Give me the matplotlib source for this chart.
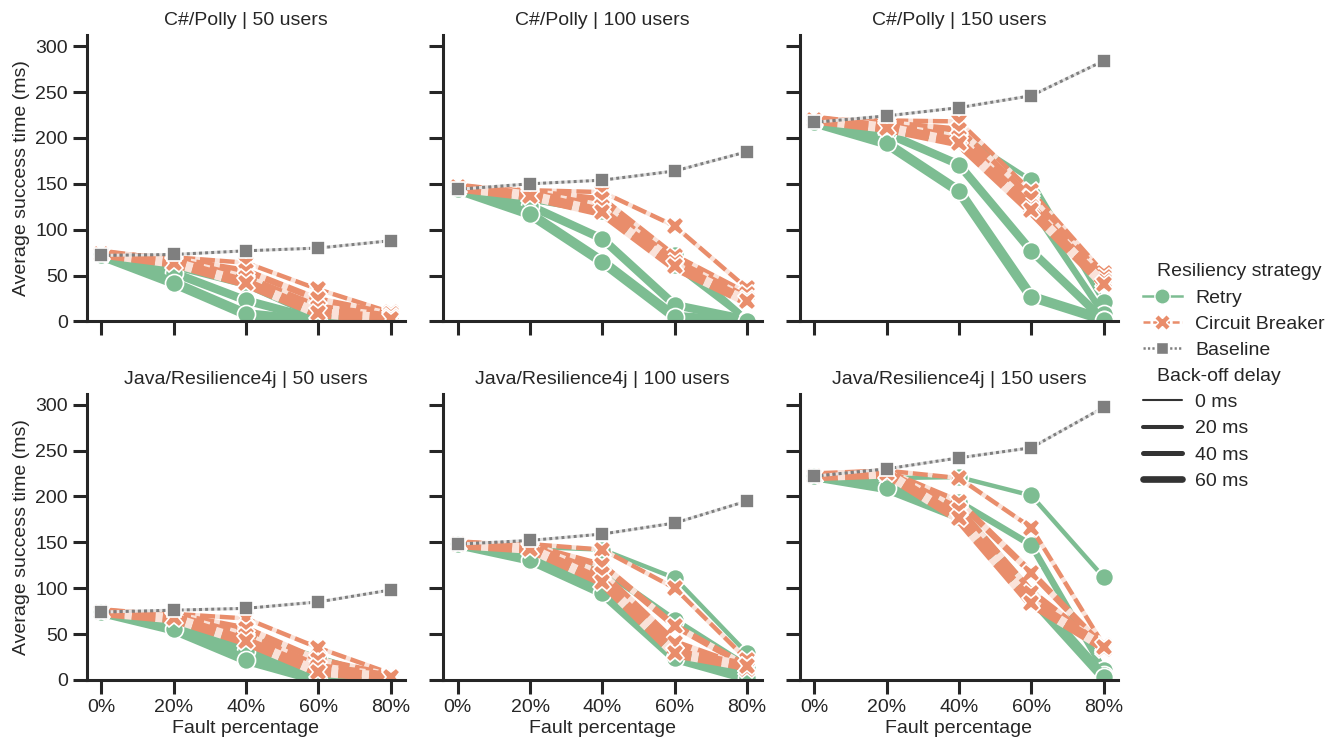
import matplotlib
matplotlib.use("Agg")
import matplotlib.pyplot as plt
from matplotlib.lines import Line2D
import matplotlib.offsetbox as moff

# ---------- data ----------
fault_pct = [0, 20, 40, 60, 80]
delays = ["0 ms", "20 ms", "40 ms", "60 ms"]
strategies = ["Retry", "Circuit Breaker", "Baseline"]
platforms = ["C#/Polly", "Java/Resilience4j"]
users = [50, 100, 150]

# one row per back-off delay (0, 20, 40, 60 ms)
polly_50_retry = [[72, 65, 48, 15, 1], [72, 60, 40, 5, 0], [72, 53, 23, 2, 0], [72, 42, 8, 0, 0]]
polly_50_cb = [[74, 70, 64, 35, 10], [74, 68, 55, 24, 8], [74, 66, 47, 15, 5], [74, 64, 42, 9, 3]]
polly_50_base = [72, 73, 77, 80, 88]

polly_100_retry = [[144, 140, 128, 72, 3], [144, 133, 120, 62, 2], [144, 126, 90, 18, 2], [144, 117, 65, 5, 0]]
polly_100_cb = [[146, 143, 141, 104, 36], [146, 141, 133, 71, 30], [146, 139, 125, 65, 25], [146, 137, 119, 60, 22]]
polly_100_base = [144, 150, 154, 164, 185]

polly_150_retry = [[217, 214, 205, 154, 21], [217, 208, 198, 125, 8], [217, 205, 171, 77, 2], [217, 194, 142, 27, 2]]
polly_150_cb = [[220, 219, 218, 142, 53], [220, 216, 209, 135, 48], [220, 213, 200, 125, 44], [220, 211, 195, 121, 41]]
polly_150_base = [217, 224, 233, 246, 284]

java_50_retry = [[74, 70, 50, 25, 1], [74, 65, 40, 10, 0], [74, 60, 32, 3, 0], [74, 55, 22, 0, 0]]
java_50_cb = [[74, 72, 67, 35, 7], [74, 71, 56, 22, 5], [74, 69, 48, 14, 4], [74, 67, 42, 9, 3]]
java_50_base = [74, 76, 78, 85, 98]

java_100_retry = [[148, 145, 142, 111, 29], [148, 140, 120, 65, 15], [148, 136, 105, 30, 5], [148, 131, 95, 24, 2]]
java_100_cb = [[148, 148, 142, 100, 22], [148, 146, 125, 59, 15], [148, 145, 115, 40, 12], [148, 143, 107, 29, 15]]
java_100_base = [148, 152, 159, 171, 195]

java_150_retry = [[222, 220, 221, 201, 112], [222, 215, 194, 147, 11], [222, 212, 185, 94, 5], [222, 209, 178, 90, 3]]
java_150_cb = [[222, 228, 220, 166, 38], [222, 227, 194, 117, 36], [222, 226, 185, 95, 34], [222, 225, 176, 84, 36]]
java_150_base = [222, 230, 242, 253, 297]

panels = [
    [(polly_50_retry, polly_50_cb, polly_50_base),
     (polly_100_retry, polly_100_cb, polly_100_base),
     (polly_150_retry, polly_150_cb, polly_150_base)],
    [(java_50_retry, java_50_cb, java_50_base),
     (java_100_retry, java_100_cb, java_100_base),
     (java_150_retry, java_150_cb, java_150_base)],
]

# ---------- style ----------
dark = "#262626"
colors = {"Retry": "#7dbd92", "Circuit Breaker": "#e98d6b", "Baseline": "#7f7f7f"}
gapcols = {"Retry": "#e3f1e7", "Circuit Breaker": "#fae2d9", "Baseline": "#e2e2e2"}
markers = {"Retry": "o", "Circuit Breaker": "X", "Baseline": (4, 0, 45)}
widths = [3.2, 4.7, 6.0, 7.3]        # plot line width per delay (pt)
leg_widths = [1.5, 2.9, 3.6, 4.8]    # legend line width per delay

plt.rcParams.update({
    "font.family": ["Liberation Sans", "DejaVu Sans"],
    "font.size": 14,
    "text.color": dark,
    "axes.labelcolor": dark,
    "axes.edgecolor": dark,
    "axes.linewidth": 2.2,
    "xtick.color": dark,
    "ytick.color": dark,
    "xtick.major.width": 2.2,
    "ytick.major.width": 2.2,
    "xtick.major.size": 10,
    "ytick.major.size": 10,
    "xtick.labelsize": 14,
    "ytick.labelsize": 14,
    "lines.scale_dashes": False,
})


def dash_for(lw, kind):
    if kind == "Circuit Breaker":
        return (6 + 1.5 * lw, 2 + 0.45 * lw)
    return (lw * 1.0, lw * 1.0)


def draw(ax, ys, kind, lw, ms=13):
    ls_kw = {}
    if kind == "Retry":
        ls_kw["linestyle"] = "-"
    else:
        ls_kw["dashes"] = dash_for(lw, kind)
        ls_kw["gapcolor"] = gapcols[kind]
    ax.plot(fault_pct, ys, color=colors[kind], lw=lw, marker=markers[kind],
            ms=ms, mec="white", mew=1.2, mfc=colors[kind],
            solid_capstyle="butt", dash_capstyle="butt", **ls_kw)


fig, axes = plt.subplots(2, 3, figsize=(13.35, 7.48), dpi=100, sharex=True, sharey=True)
fig.subplots_adjust(left=0.065, right=0.8375, bottom=0.091, top=0.953, wspace=0.12, hspace=0.252)

for r in range(2):
    for c in range(3):
        ax = axes[r][c]
        retry, cb, base = panels[r][c]
        for i, lw in enumerate(widths):
            draw(ax, retry[i], "Retry", lw)
        for i, lw in enumerate(widths):
            draw(ax, cb[i], "Circuit Breaker", lw)
        draw(ax, base, "Baseline", 2.2, ms=15)
        ax.set_title(f"{platforms[r]} | {users[c]} users", fontsize=14, pad=7)
        for s in ("top", "right"):
            ax.spines[s].set_visible(False)
        ax.tick_params(labelbottom=(r == 1))
        if c == 0:
            ax.set_ylabel("Average success time (ms)")
        if r == 1:
            ax.set_xlabel("Fault percentage", labelpad=3)

ax0 = axes[0][0]
ax0.set_xticks(fault_pct)
ax0.set_xticklabels([f"{v}%" for v in fault_pct])
ax0.set_yticks([0, 50, 100, 150, 200, 250, 300])
ax0.set_ylim(0, 312)
ax0.set_xlim(-4, 84)

# ---------- legend (seaborn-like with subtitles) ----------
handles, labels = [], []
handles.append(Line2D([], [], visible=False)); labels.append("Resiliency strategy")
for k in strategies:
    kw = {"linestyle": "-"} if k == "Retry" else {"dashes": dash_for(1.6, k) if k == "Baseline" else (5, 2)}
    handles.append(Line2D([], [], color=colors[k], lw=1.8, marker=markers[k],
                          ms=13 if k == "Baseline" else 11, mec="white", mew=1.0, **kw))
    labels.append(k)
handles.append(Line2D([], [], visible=False)); labels.append("Back-off delay")
for d, lw in zip(delays, leg_widths):
    handles.append(Line2D([], [], color="#333333", lw=lw, solid_capstyle="round"))
    labels.append(d)

leg = fig.legend(handles, labels, loc="center left", bbox_to_anchor=(0.843, 0.497),
                 frameon=False, fontsize=14, handlelength=2.0, labelspacing=0.44,
                 handletextpad=0.7)
for hpack in leg.findobj(moff.VPacker)[0].get_children():
    draw_area, text_area = hpack.get_children()
    if not all(a.get_visible() for a in draw_area.get_children()):
        draw_area.set_width(0)

fig.savefig("out.png", dpi=100)
